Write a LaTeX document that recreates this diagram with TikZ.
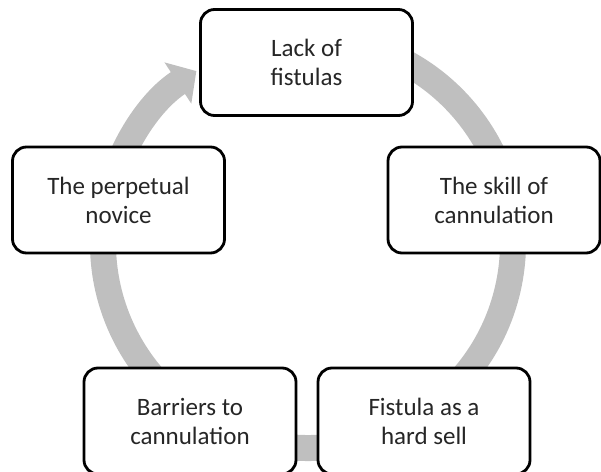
\documentclass[tikz,border=0pt]{standalone}
\usepackage{fontspec}
\setmainfont{Carlito}
\usetikzlibrary{arrows.meta}

\begin{document}
\begin{tikzpicture}[x=1pt, y=1pt,
    stage/.style={draw=black, line width=2.8pt, fill=white, rounded corners=14pt,
      minimum width=212pt, minimum height=106pt, align=center, text=black!85,
      font=\fontsize{25}{29}\selectfont},
    ring/.style={line width=26pt, draw=gray!50}]
  \useasboundingbox (0,0) rectangle (601,471);
  \coordinate (hub) at (308,228);
  \draw[ring, -{Triangle[width=48pt, length=22pt]}] (hub) ++(80:205) arc (80:-237:205);
  \node[stage] (lack) at (306.5,408.5) {Lack of\\fistulas};
  \node[stage] (skill) at (494,271) {The skill of\\cannulation};
  \node[stage] (novice) at (118.5,271) {The perpetual\\novice};
  \node[stage] (barriers) at (190,50) {Barriers to\\cannulation};
  \node[stage] (sell) at (424,50) {Fistula as a\\hard sell};
\end{tikzpicture}
\end{document}
